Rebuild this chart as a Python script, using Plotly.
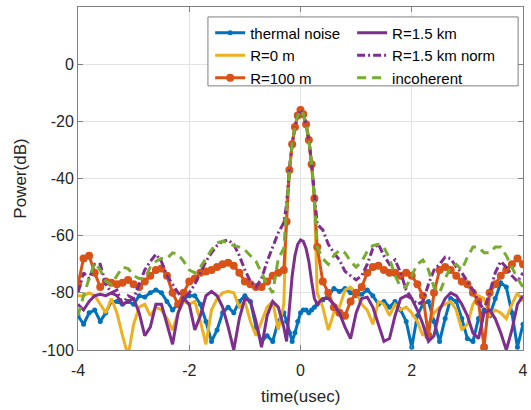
import plotly.graph_objects as go

# time axis (usec)
t_left = [-4.0, -3.9, -3.8, -3.7, -3.6, -3.5, -3.4, -3.3, -3.2, -3.1, -3.0, -2.9, -2.8, -2.7, -2.6,
          -2.5, -2.4, -2.3, -2.2, -2.1, -2.0, -1.9, -1.8, -1.7, -1.6, -1.5, -1.4, -1.3, -1.2, -1.1,
          -1.0, -0.9, -0.8, -0.7, -0.6, -0.5, -0.4]
t_center = [-0.30, -0.25, -0.20, -0.15, -0.10, -0.05, 0.0, 0.05, 0.10, 0.15, 0.20, 0.25, 0.30]
t_right = [0.4, 0.5, 0.6, 0.7, 0.8, 0.9, 1.0, 1.1, 1.2, 1.3, 1.4, 1.5, 1.6, 1.7, 1.8, 1.9, 2.0,
           2.1, 2.2, 2.3, 2.4, 2.5, 2.6, 2.7, 2.8, 2.9, 3.0, 3.1, 3.2, 3.3, 3.4, 3.5, 3.6, 3.7,
           3.8, 3.9, 4.0]
t = t_left + t_center + t_right

thermal_noise = [
    -88, -91, -87, -86, -90, -87, -83, -83, -84, -83, -84, -81, -81.5, -80, -79, -80, -83, -86, -84,
    -82, -81, -81, -84, -90, -97, -93, -87, -85, -87, -83, -81, -83, -92, -97, -95, -97, -90,
    -87, -90, -94, -97, -94, -90, -87, -86, -86, -87, -86, -85, -84,
    -82.5, -81, -78.5, -79.5, -78.5, -80, -81, -80.5, -79, -81, -84, -83, -85, -83, -86, -90, -99,
    -88, -84, -83, -90, -97, -89, -82, -83, -89, -96, -97, -89, -86, -88, -82, -76.5, -78, -87,
    -99, -91]

r_0m = [
    -81, -81, -80, -81, -84, -87, -82, -87, -95, -102, -91, -85, -84, -88, -85, -86, -89, -93, -87,
    -83, -84, -83, -90, -98, -86, -82, -80, -79.5, -80, -85, -83, -90, -95, -90, -85, -83, -93,
    -84, -50, -37, -28, -22, -18, -16, -17.5, -21, -26.5, -35, -47, -80,
    -85, -93, -87, -85, -79, -78, -80, -84, -86, -91, -83, -84, -88, -84, -86, -85, -87, -90, -95,
    -91, -87, -85, -84, -83, -86, -93, -91, -84, -81, -82, -88, -86, -87, -89, -84, -80, -83]

r_100m = [
    -77, -68, -67, -73, -78, -76, -76.5, -77, -76.5, -75.5, -77, -78, -76, -74, -72, -71.5, -74,
    -80, -84, -80, -76, -75, -73, -72.5, -72, -71, -70, -69.5, -70.5, -73, -76, -77, -78, -78, -76,
    -74, -73,
    -72, -55, -37, -28, -22, -18, -16, -17.5, -21, -26.5, -35, -47, -64,
    -76, -80, -85, -87, -88, -83, -80, -78, -73, -71, -70.5, -72, -73, -73, -74, -73, -74, -77,
    -81, -95, -80, -72, -71, -72, -74, -76, -77, -80, -83, -99, -80, -77, -74, -72, -70, -68, -70]

r_1500m = [
    -84, -86, -83, -81, -80.5, -81, -80, -81, -84, -83, -82, -87, -95, -92, -84, -84, -91, -98,
    -87, -82, -84, -93, -88, -81, -79.5, -81, -85, -92, -100, -89, -82, -83, -90, -99, -88, -83, -85,
    -92, -97, -85, -74, -67, -63, -61.5, -62, -64.5, -69, -76, -82, -84,
    -82, -82, -84, -87, -92, -96, -87, -82, -81.5, -85, -91, -97, -96, -88, -82, -81, -82, -86,
    -91, -97, -95, -86, -82, -80, -81, -84, -88, -94, -96, -87, -86, -89, -94, -100, -93, -84, -81]

r_1500m_norm = [
    -80, -73, -75, -70, -70, -77, -80, -79, -84, -81, -82, -77, -72, -69, -66.5, -69, -74, -77,
    -80, -82, -80, -77, -73, -69, -66, -63.5, -62, -61.5, -63, -67, -72, -76, -78, -75, -69, -64, -59,
    -55.5, -49, -37, -28, -22, -18, -16, -17.5, -21, -26.5, -35, -47, -56,
    -58, -63, -66, -68.5, -72.5, -74, -75.5, -74, -70, -64.5, -63, -67, -70, -68.5, -73, -79, -82,
    -84, -83, -77, -72, -70, -67.5, -68, -71, -73, -76, -79, -83, -86, -80, -73, -69, -71, -74,
    -76, -73]

incoherent = [
    -88, -81, -75, -69.5, -72, -76, -77, -74, -71, -71.5, -74, -75, -75, -71, -69, -68, -68, -66,
    -66.5, -69, -72, -73, -71, -68, -65, -62.5, -62, -62.5, -63.5, -64, -65, -67, -69, -73, -77,
    -80, -68,
    -64.5, -50, -37, -28, -22, -18, -16, -17.5, -21, -26.5, -35, -47, -64,
    -68, -70, -67, -65, -66, -69, -71, -69, -65.5, -63.5, -63, -64, -68, -74, -78, -78, -74, -70,
    -68.5, -72, -78, -80, -75, -71, -70, -72, -67.5, -64, -64, -66, -66, -64, -64, -67, -71, -75, -78]

y_ticks = [-100, -80, -60, -40, -20, 0]
x_ticks = [-4, -2, 0, 2, 4]

BLUE = "#0072BD"
ORANGE = "#D95319"
YELLOW = "#EDB120"
PURPLE = "#7E2F8E"
GREEN = "#77AC30"
LW = 3

fig = go.Figure()
fig.add_trace(go.Scatter(x=t, y=thermal_noise, name="thermal noise", mode="lines+markers",
                         line=dict(color=BLUE, width=LW), marker=dict(size=5, color=BLUE),
                         legend="legend"))
fig.add_trace(go.Scatter(x=t, y=r_0m, name="R=0 m", mode="lines",
                         line=dict(color=YELLOW, width=LW), legend="legend"))
fig.add_trace(go.Scatter(x=t, y=r_100m, name="R=100 m", mode="lines+markers",
                         line=dict(color=ORANGE, width=LW), marker=dict(size=8, color=ORANGE),
                         legend="legend"))
fig.add_trace(go.Scatter(x=t, y=r_1500m, name="R=1.5 km", mode="lines",
                         line=dict(color=PURPLE, width=LW), legend="legend2"))
fig.add_trace(go.Scatter(x=t, y=r_1500m_norm, name="R=1.5 km norm", mode="lines",
                         line=dict(color=PURPLE, width=LW, dash="8px,3px,2px,3px"),
                         legend="legend2"))
fig.add_trace(go.Scatter(x=t, y=incoherent, name="incoherent", mode="lines",
                         line=dict(color=GREEN, width=LW, dash="9px,6px"), legend="legend2"))

FONT = "Liberation Sans, Arial, sans-serif"
TXT = "#262626"
AX = "#808080"

legend_common = dict(bgcolor="rgba(0,0,0,0)", borderwidth=0, font=dict(family=FONT, size=15, color="#000"),
                     xanchor="left", yanchor="top", tracegroupgap=0)

fig.update_layout(
    width=531, height=410,
    margin=dict(l=78, r=8, t=7, b=60, autoexpand=False),
    paper_bgcolor="white", plot_bgcolor="white",
    font=dict(family=FONT, size=16, color=TXT),
    showlegend=True,
    legend=dict(x=0.297, y=0.972, **legend_common),
    legend2=dict(x=0.616, y=0.972, **legend_common),
    shapes=[dict(type="rect", xref="paper", yref="paper", x0=0.292, x1=0.989, y0=0.770, y1=0.971,
                 fillcolor="white", line=dict(color="#7f7f7f", width=1), layer="above")],
    annotations=[
        dict(text="time(usec)", xref="paper", yref="paper", x=0.5, y=-0.137, xanchor="center",
             yanchor="middle", showarrow=False, font=dict(family=FONT, size=17, color=TXT)),
        dict(text="Power(dB)", xref="paper", yref="paper", x=-0.13, y=0.5, xanchor="center",
             yanchor="middle", showarrow=False, textangle=-90,
             font=dict(family=FONT, size=17, color=TXT)),
    ],
)
fig.update_xaxes(range=[-4, 4], tickvals=x_ticks, ticktext=[str(v) for v in x_ticks],
                 automargin=False,
                 showgrid=True, gridcolor="#e3e3e3", gridwidth=1, zeroline=False,
                 showline=True, linecolor=AX, linewidth=1, mirror="ticks",
                 ticks="inside", ticklen=5, tickcolor=AX, ticklabelstandoff=6,
                 tickfont=dict(size=16, color=TXT))
fig.update_yaxes(range=[-100, 20], tickvals=y_ticks, ticktext=[str(v) for v in y_ticks],
                 automargin=False,
                 showgrid=True, gridcolor="#e3e3e3", gridwidth=1, zeroline=False,
                 showline=True, linecolor=AX, linewidth=1, mirror="ticks",
                 ticks="inside", ticklen=5, tickcolor=AX,
                 tickfont=dict(size=16, color=TXT))

fig.write_html("out.html", config={"displayModeBar": False},
               post_script="document.body.style.margin='0';document.body.style.padding='0';")
